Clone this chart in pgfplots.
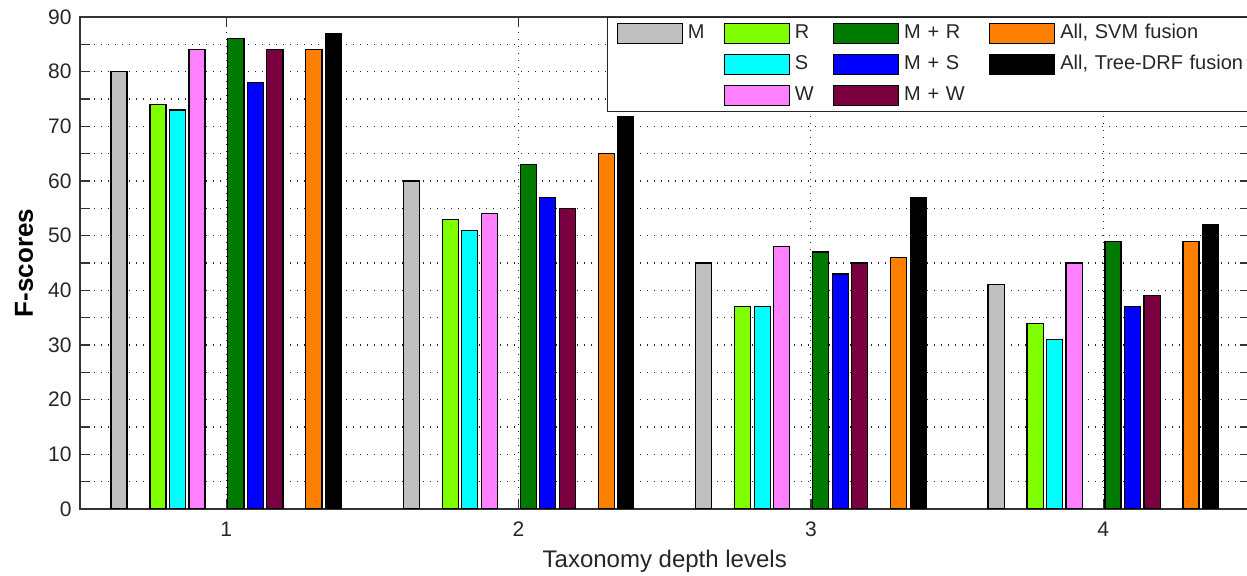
\documentclass[border=0pt]{standalone}
\usepackage{pgfplots}
\pgfplotsset{compat=1.18}
\usepackage{fontspec}
\setmainfont{Liberation Sans}
\definecolor{cM}{HTML}{BFBFBF}
\definecolor{cR}{HTML}{80FF00}
\definecolor{cS}{HTML}{00FFFF}
\definecolor{cW}{HTML}{FF80FF}
\definecolor{cMR}{HTML}{007A00}
\definecolor{cMS}{HTML}{0000FF}
\definecolor{cMW}{HTML}{7A0040}
\definecolor{cSVM}{HTML}{FF8000}
\definecolor{cDRF}{HTML}{000000}
\pgfplotsset{mylegend/.style={legend image code/.code={\draw[##1, line width=0.6pt] (0pt,-5pt) rectangle (32.5pt,5pt);}},
  myempty/.style={legend image code/.code={\pgfpathrectangle{\pgfpoint{0pt}{-5pt}}{\pgfpoint{32.5pt}{10pt}}\pgfusepath{}}}}
\begin{document}
\begin{tikzpicture}
\begin{axis}[
  name=ax,
  scale only axis, width=584.75pt, height=246pt,
  ybar=0pt, bar width=0.055,
  xmin=0.5, xmax=4.5, ymin=0, ymax=90,
  xtick={1,2,3,4}, ytick={0,10,...,90}, minor y tick num=1,
  grid=both,
  major grid style={black!85, line width=0.55pt, dash pattern=on 0.7pt off 2.8pt},
  minor grid style={black!85, line width=0.55pt, dash pattern=on 0.7pt off 2.8pt},
  tick align=inside, major tick length=5pt, minor tick length=5pt,
  tick style={black!80, line width=0.6pt},
  axis line style={black!80, line width=0.6pt},
  /pgf/number format/assume math mode=true,
  ticklabel style={font=\fontsize{10.5}{12}\selectfont, text=black!85},
  xticklabel style={anchor=base, yshift=-14pt},
  yticklabel style={inner xsep=4pt},
  xlabel={Taxonomy depth levels},
  xlabel style={at={(axis description cs:0.5,-0.1199)}, anchor=base, font=\fontsize{12}{14}\selectfont, text=black!85},
  ylabel={F-scores},
  ylabel style={at={(axis description cs:-0.0479,0.5)}, anchor=center, font=\bfseries\fontsize{13}{15}\selectfont},
  legend columns=4,
  legend cell align=left,
  legend style={at={(axis description cs:0.4506,1)}, anchor=north west, draw=black!85, line width=0.6pt, fill=white,
    inner xsep=4.5pt, inner ysep=2.5pt, column sep=0pt, row sep=5pt,
    font=\fontsize{10}{12}\selectfont,
    nodes={inner xsep=2.5pt, inner ysep=0pt, text height=7.5pt, text depth=2.5pt, text=black!85}},
]
% bars (series order: M, -, R, S, W, -, M+R, M+S, M+W, -, SVM, Tree-DRF)
\addplot[forget plot, bar shift=-0.3667, fill=cM, draw=black, line width=0.6pt] coordinates {(1,80) (2,60) (3,45) (4,41)};
\addplot[forget plot, bar shift=-0.2333, fill=cR, draw=black, line width=0.6pt] coordinates {(1,74) (2,53) (3,37) (4,34)};
\addplot[forget plot, bar shift=-0.1667, fill=cS, draw=black, line width=0.6pt] coordinates {(1,73) (2,51) (3,37) (4,31)};
\addplot[forget plot, bar shift=-0.1, fill=cW, draw=black, line width=0.6pt] coordinates {(1,84) (2,54) (3,48) (4,45)};
\addplot[forget plot, bar shift=0.0333, fill=cMR, draw=black, line width=0.6pt] coordinates {(1,86) (2,63) (3,47) (4,49)};
\addplot[forget plot, bar shift=0.1, fill=cMS, draw=black, line width=0.6pt] coordinates {(1,78) (2,57) (3,43) (4,37)};
\addplot[forget plot, bar shift=0.1667, fill=cMW, draw=black, line width=0.6pt] coordinates {(1,84) (2,55) (3,45) (4,39)};
\addplot[forget plot, bar shift=0.3, fill=cSVM, draw=black, line width=0.6pt] coordinates {(1,84) (2,65) (3,46) (4,49)};
\addplot[forget plot, bar shift=0.3667, fill=cDRF, draw=black, line width=0.6pt] coordinates {(1,87) (2,71.7) (3,57) (4,52)};
% legend, row by row
\addlegendimage{mylegend, fill=cM, draw=black}
\addlegendentry[text width=15.5pt]{M}
\addlegendimage{mylegend, fill=cR, draw=black}
\addlegendentry[text width=16.5pt]{R}
\addlegendimage{mylegend, fill=cMR, draw=black}
\addlegendentry[text width=40pt]{M + R}
\addlegendimage{mylegend, fill=cSVM, draw=black}
\addlegendentry[text width=120pt]{All, SVM fusion}
\addlegendimage{myempty}
\addlegendentry[text width=15.5pt]{}
\addlegendimage{mylegend, fill=cS, draw=black}
\addlegendentry[text width=16.5pt]{S}
\addlegendimage{mylegend, fill=cMS, draw=black}
\addlegendentry[text width=40pt]{M + S}
\addlegendimage{mylegend, fill=cDRF, draw=black}
\addlegendentry[text width=120pt]{All, Tree-DRF fusion}
\addlegendimage{myempty}
\addlegendentry[text width=15.5pt]{}
\addlegendimage{mylegend, fill=cW, draw=black}
\addlegendentry[text width=16.5pt]{W}
\addlegendimage{mylegend, fill=cMW, draw=black}
\addlegendentry[text width=40pt]{M + W}
\addlegendimage{myempty}
\addlegendentry[text width=120pt]{}
\end{axis}
\pgfresetboundingbox
\useasboundingbox ([xshift=-40pt,yshift=-33.5pt]ax.south west) rectangle ([xshift=583.5pt,yshift=8.5pt]ax.north west);
\end{tikzpicture}
\end{document}
